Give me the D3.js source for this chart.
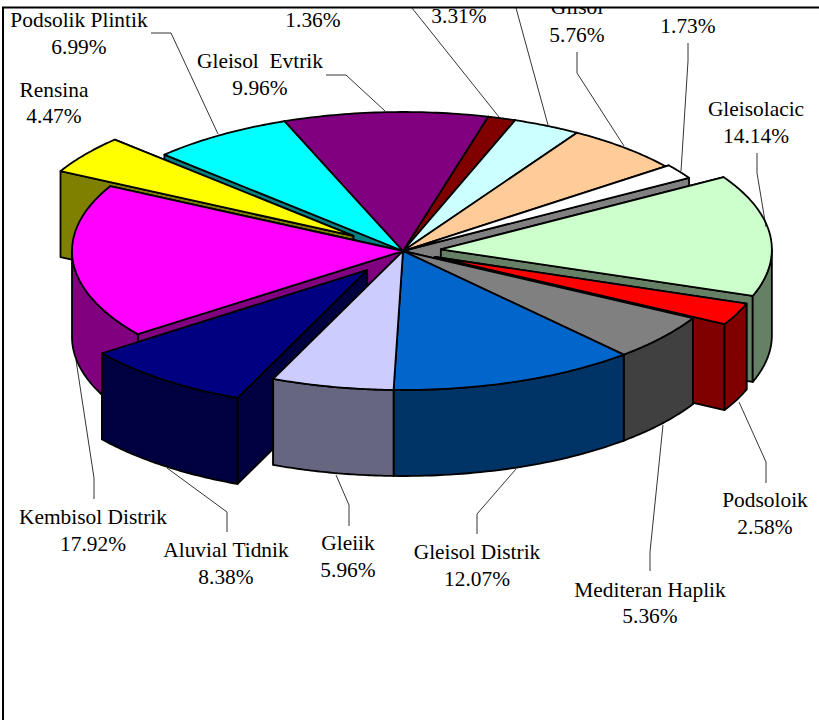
<!DOCTYPE html>
<html>
<head>
<meta charset="utf-8">
<script src="https://cdn.jsdelivr.net/npm/d3@7"></script>
<style>
html, body { margin: 0; padding: 0; background: #fff; }
svg { display: block; }
text { font-family: "Liberation Serif", serif; font-size: 21.4px; fill: #000; text-anchor: middle; white-space: pre; }
</style>
</head>
<body>
<svg width="819" height="720"></svg>
<script>
// Slices clockwise, starting at the small dark red one
var names = ['', '', 'Gilsol', '', 'Gleisolacic', 'Podsoloik', 'Mediteran Haplik', 'Gleisol Distrik',
    'Gleiik', 'Aluvial Tidnik', 'Kembisol Distrik', 'Rensina', 'Podsolik Plintik', 'Gleisol  Evtrik'];
var values = [1.36, 3.31, 5.76, 1.73, 14.14, 2.58, 5.36, 12.07, 5.96, 8.38, 17.92, 4.47, 6.99, 9.96];
var explode = [0, 0, 0, 0.012, 0.115, 0.105, 0, 0, 0, 0.175, 0, 0.185, 0, 0];
var colors = ['#800000', '#CCFFFF', '#FFCC99', '#FFFFFF', '#CCFFCC', '#FF0000', '#808080', '#0066CC',
    '#CCCCFF', '#000080', '#FF00FF', '#FFFF00', '#00FFFF', '#800080'];

// Label placement: centre x, name line y, percent line y
var labelX = [313, 459, 577, 688, 756, 765, 650, 477, 348, 226, 93, 54, 79, 260];
var labelNameY = [0, 0, 14, 0, 116, 507, 597, 559, 550, 557, 524, 97, 27, 68];
var labelPctY = [27, 23, 42, 33, 143, 534, 623, 586, 577, 584, 551, 123, 54, 95];

// Leader lines, same order as the slices
var leaders = [
    [[412, 8], [499, 117]],
    [[516, 8], [548, 125]],
    [[577, 52], [577, 73], [624, 146]],
    [[688, 43], [688, 61], [681, 171]],
    [[757, 153], [757, 173], [766, 227]],
    [[739, 402], [766, 462], [766, 483]],
    [[663, 425], [650, 552], [650, 571]],
    [[516, 469], [477, 514], [477, 534]],
    [[336, 475], [349, 505], [349, 526]],
    [[167, 468], [227, 512], [227, 532]],
    [[76, 360], [94, 478], [94, 499]],
    [],
    [[151, 33], [171, 33], [218, 134]],
    [[326, 75], [346, 75], [385, 111]]
];

var cx = 403, cy = 251, rx = 331, ry = 139, depth = 86;
var firstAngle = 14.9 * Math.PI / 180;

var svg = d3.select('svg');
svg.append('defs').append('clipPath').attr('id', 'chartClip')
    .append('rect').attr('x', 0).attr('y', 8).attr('width', 819).attr('height', 712);

var chartG = svg.append('g').attr('clip-path', 'url(#chartClip)');

var pie = d3.pie().sort(null)
    .startAngle(firstAngle)
    .endAngle(firstAngle + 2 * Math.PI);

var slices = pie(values).map(function(d, i) {
    var mid = (d.startAngle + d.endAngle) / 2;
    var c = d3.rgb(colors[i]);
    d.color = colors[i];
    d.side = d3.rgb(c.r / 2, c.g / 2, c.b / 2).formatHex();
    d.ox = explode[i] * rx * Math.sin(mid);
    d.oy = -explode[i] * ry * Math.cos(mid);
    d.frontY = d.oy - ry * Math.cos(mid);
    return d;
});

function rim(d, a, dz) {
    return [cx + d.ox + rx * Math.sin(a), cy + d.oy - ry * Math.cos(a) + (dz || 0)];
}

function arcPoints(d, a0, a1, dz) {
    return d3.range(0, 1.0001, 1 / 40).map(function(t) {
        return rim(d, a0 + (a1 - a0) * t, dz);
    });
}

var line = d3.line();
function closed(pts) { return line(pts) + 'Z'; }

function addShape(path, fill) {
    chartG.append('path')
        .attr('d', path)
        .attr('fill', fill)
        .attr('stroke', '#000')
        .attr('stroke-width', 1.8)
        .attr('stroke-linejoin', 'round');
}

var backToFront = slices.slice().sort(function(a, b) { return a.frontY - b.frontY; });

// radial faces first, then the curved walls, then the tops
backToFront.forEach(function(d) {
    var apex = [cx + d.ox, cy + d.oy];
    var apexLow = [apex[0], apex[1] + depth];
    var ends = [d.startAngle, d.endAngle].sort(function(a, b) {
        return rim(d, a)[1] - rim(d, b)[1];
    });
    ends.forEach(function(a) {
        addShape(closed([apex, rim(d, a), rim(d, a, depth), apexLow]), d.side);
    });
});

backToFront.forEach(function(d) {
    // curved wall is only seen on the front half of the ellipse
    [0, 2 * Math.PI].forEach(function(turn) {
        var a0 = Math.max(d.startAngle, Math.PI / 2 + turn);
        var a1 = Math.min(d.endAngle, 3 * Math.PI / 2 + turn);
        if (a1 > a0) {
            addShape(closed(arcPoints(d, a0, a1, 0).concat(arcPoints(d, a1, a0, depth))), d.side);
        }
    });
});

slices.forEach(function(d) {
    var apex = [cx + d.ox, cy + d.oy];
    addShape(closed([apex].concat(arcPoints(d, d.startAngle, d.endAngle))), d.color);
});

// leader lines
leaders.forEach(function(pts) {
    if (pts.length) {
        chartG.append('path')
            .attr('d', line(pts))
            .attr('fill', 'none')
            .attr('stroke', '#000')
            .attr('stroke-width', 0.8);
    }
});

// labels
values.forEach(function(v, i) {
    if (names[i]) {
        chartG.append('text').attr('x', labelX[i]).attr('y', labelNameY[i]).text(names[i]);
    }
    chartG.append('text').attr('x', labelX[i]).attr('y', labelPctY[i]).text(v.toFixed(2) + '%');
});

// frame: only the top and left edges are in the picture
svg.append('path')
    .attr('d', 'M3,720V7.5H819')
    .attr('fill', 'none')
    .attr('stroke', '#000')
    .attr('stroke-width', 2);
</script>
</body>
</html>
